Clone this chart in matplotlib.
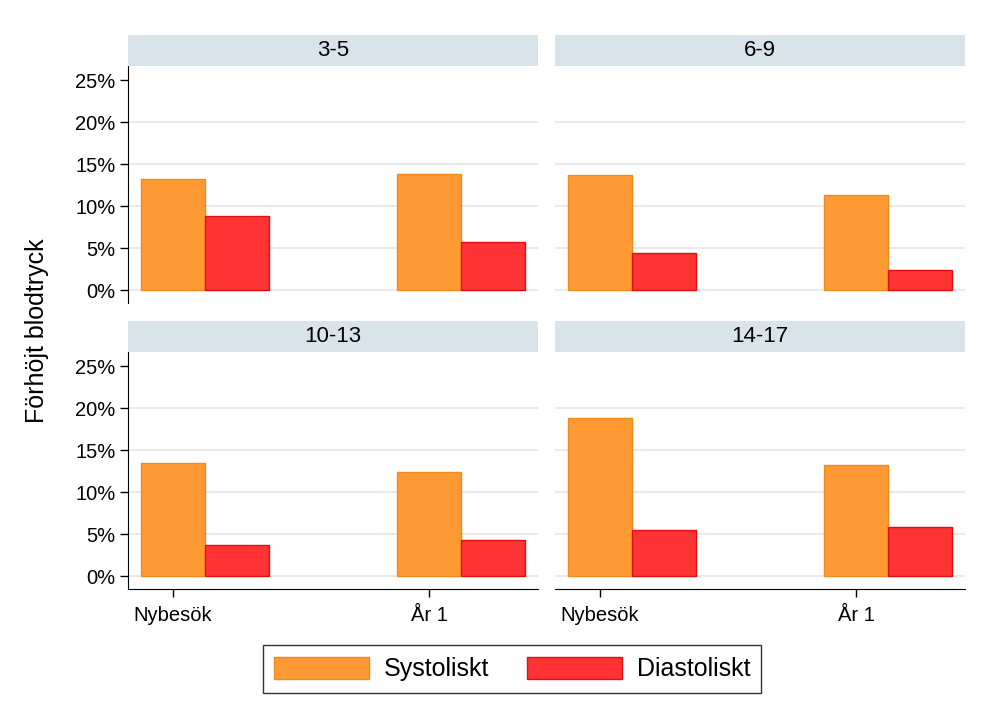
import matplotlib
matplotlib.use("Agg")
import matplotlib.pyplot as plt
from matplotlib.patches import Patch

plt.rcParams["font.family"] = ["Liberation Sans", "DejaVu Sans"]

# Data (andel med förhöjt blodtryck, %)
GROUPS = ["3-5", "6-9", "10-13", "14-17"]
VISITS = ["Nybesök", "År 1"]
SYSTOLISKT = {
    "3-5":   [13.2, 13.8],
    "6-9":   [13.7, 11.4],
    "10-13": [13.5, 12.4],
    "14-17": [18.8, 13.2],
}
DIASTOLISKT = {
    "3-5":   [8.8, 5.8],
    "6-9":   [4.4, 2.4],
    "10-13": [3.7, 4.3],
    "14-17": [5.5, 5.9],
}
YTICKS = [0, 5, 10, 15, 20, 25]

C_SYS, E_SYS = "#FF9933", "#F08A1C"
C_DIA, E_DIA = "#FF3333", "#E01010"
STRIP = "#D9E4EA"

W, H = 1000, 727
fig = plt.figure(figsize=(10, 7.27), dpi=100)

def fx(px):
    return px / W

def fy(py):
    return 1 - py / H

# panel-geometri i pixlar: (vänster, topp för strip)
panels = [(128, 35), (555, 35), (128, 321), (555, 321)]
pw, strip_h, plot_h = 410, 31, 237

group_pos = [0, 4]

for k, (g, (px, py)) in enumerate(zip(GROUPS, panels)):
    ax = fig.add_axes([fx(px), fy(py + strip_h + plot_h), fx(pw), plot_h / H])
    sax = fig.add_axes([fx(px), fy(py + strip_h), fx(pw), strip_h / H])
    sax.set_facecolor(STRIP)
    sax.set_xticks([])
    sax.set_yticks([])
    for s in sax.spines.values():
        s.set_visible(False)
    sax.text(0.5, 0.5, g, ha="center", va="center", fontsize=16,
             transform=sax.transAxes)

    xs = [p for p in group_pos]
    xd = [p + 1 for p in group_pos]
    ax.bar(xs, SYSTOLISKT[g], width=1, align="center", color=C_SYS,
           edgecolor=E_SYS, linewidth=1, zorder=3)
    ax.bar(xd, DIASTOLISKT[g], width=1, align="center", color=C_DIA,
           edgecolor=E_DIA, linewidth=1, zorder=3)

    ax.set_xlim(-0.7, 5.7)
    ax.set_ylim(-1.5, 26.7)
    for yv in YTICKS[:-1]:
        ax.axhline(yv, color="#EAEAEA", linewidth=1.5, zorder=1)

    ax.spines["top"].set_visible(False)
    ax.spines["right"].set_visible(False)
    left = k % 2 == 0
    bottom = k >= 2
    ax.spines["left"].set_visible(left)
    ax.spines["bottom"].set_visible(bottom)

    if left:
        ax.set_yticks(YTICKS)
        ax.set_yticklabels([f"{v}%" for v in YTICKS], fontsize=14.5)
        ax.tick_params(axis="y", length=6, width=1, direction="out", pad=3)
    else:
        ax.set_yticks([])
    if bottom:
        ax.set_xticks(group_pos)
        ax.set_xticklabels(VISITS, fontsize=14.5)
        ax.tick_params(axis="x", length=6, width=1, direction="out", pad=6)
    else:
        ax.set_xticks([])

fig.text(fx(37), fy(331), "Förhöjt blodtryck", rotation=90,
         ha="center", va="center", fontsize=18)

handles = [Patch(facecolor=C_SYS, edgecolor=E_SYS, label="Systoliskt"),
           Patch(facecolor=C_DIA, edgecolor=E_DIA, label="Diastoliskt")]
leg = fig.legend(handles=handles, loc="center", ncol=2,
                 bbox_to_anchor=(fx(512), fy(669)), fontsize=18,
                 frameon=True, fancybox=False, handlelength=3.8,
                 handleheight=1.0, handletextpad=0.6, columnspacing=1.5,
                 borderpad=0.45)
leg.get_frame().set_edgecolor("black")
leg.get_frame().set_linewidth(1)

fig.savefig("out.png", dpi=100)
